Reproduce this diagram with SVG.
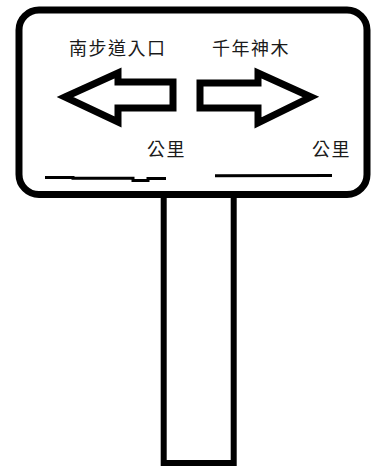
<svg xmlns="http://www.w3.org/2000/svg" width="373" height="468" viewBox="0 0 373 468">
<style>
.ln{fill:none;stroke:#000;stroke-linejoin:miter;stroke-linecap:butt}
.t{font-family:"Noto Sans CJK TC","Noto Sans CJK SC",sans-serif;font-size:18px;fill:#1a1a1a;letter-spacing:1.5px}
</style>
<rect width="373" height="468" fill="#fff"/>
<g id="post">
<path class="ln" d="M163.7,194 V463 H233.7 V194" stroke-width="6"/>
</g>
<g id="board">
<rect class="ln" x="19" y="10" width="348" height="184.5" rx="20" ry="20" stroke-width="7"/>
</g>
<g id="left-arrow">
<path class="ln" d="M65,97 L118,73 V82 H173 V108 H118 V122 Z" stroke-width="7"/>
</g>
<g id="right-arrow">
<path class="ln" d="M311,97 L258,73 V83 H200 V108 H258 V123 Z" stroke-width="7"/>
</g>
<g id="labels">
<text class="t" x="69" y="55">南步道入口</text>
<text class="t" x="212" y="55">千年神木</text>
<text class="t" x="147" y="156">公里</text>
<text class="t" x="312" y="156">公里</text>
</g>
<g id="blanks">
<polyline class="ln" points="45,177.5 73,177.5 73,178.3 133,178.3 133,180.5 148,180.5 148,178.5 166,178.5" stroke-width="3"/>
<line class="ln" x1="215" y1="175.7" x2="332" y2="175.5" stroke-width="3"/>
</g>
</svg>
